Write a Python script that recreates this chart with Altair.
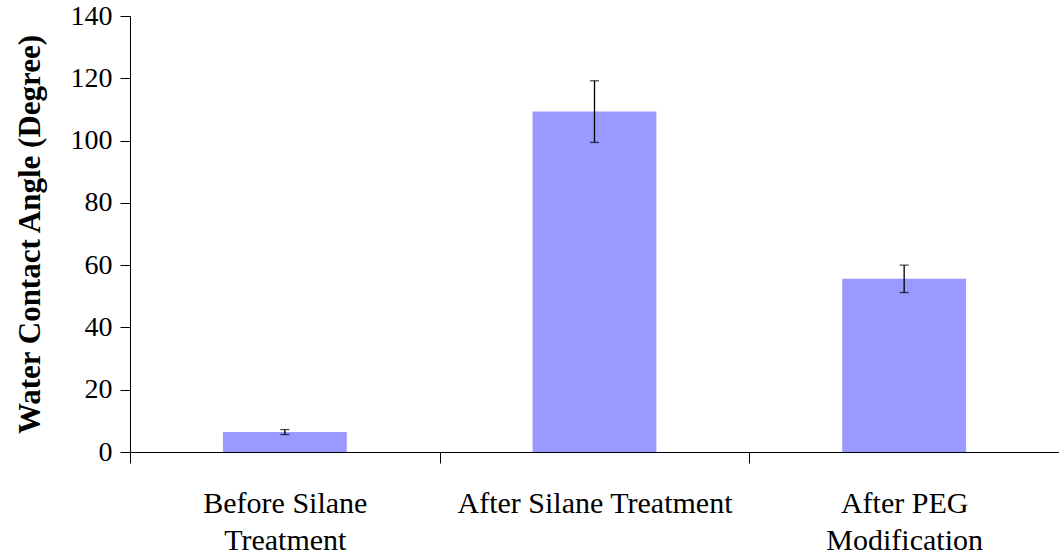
import altair as alt
import pandas as pd

# Water contact angle measured at each surface-treatment stage
stages = ["Before Silane\nTreatment", "After Silane Treatment", "After PEG\nModification"]
angles = [6.4, 109.3, 55.6]
errors = [0.8, 9.9, 4.4]
y_ticks = [0, 20, 40, 60, 80, 100, 120, 140]

df = pd.DataFrame({"stage": stages, "angle": angles, "err": errors})
df["lo"] = df["angle"] - df["err"]
df["hi"] = df["angle"] + df["err"]

FONT = "Liberation Serif"
Y_TITLE = "Water Contact Angle (Degree)"

# Bands fill each category slot so the axis ticks fall on the slot boundaries
x_scale = alt.Scale(paddingInner=0, paddingOuter=0)
y_scale = alt.Scale(domain=[0, 140], nice=False)
x_enc = alt.X("stage:N", sort=stages, scale=x_scale, title=None)


def y_enc(field):
    return alt.Y(field, scale=y_scale, title=Y_TITLE, axis=alt.Axis(values=y_ticks))


bars = alt.Chart(df).mark_bar(color="#9999FF", width=alt.RelativeBandSize(0.4)).encode(
    x=x_enc, y=y_enc("angle:Q")
)

whiskers = alt.Chart(df).mark_rule(color="black", strokeWidth=1.3).encode(
    x=x_enc, y=y_enc("lo:Q"), y2="hi:Q"
)

caps_hi = alt.Chart(df).mark_tick(color="black", size=9, thickness=1.3).encode(
    x=x_enc, y=y_enc("hi:Q")
)
caps_lo = alt.Chart(df).mark_tick(color="black", size=9, thickness=1.3).encode(
    x=x_enc, y=y_enc("lo:Q")
)

chart = (
    alt.layer(bars, whiskers, caps_hi, caps_lo)
    .properties(
        width=929,
        height=436,
        autosize=alt.AutoSizeParams(type="none"),
        padding={"left": 130, "top": 16, "right": 0, "bottom": 107},
    )
    .configure_view(stroke=None)
    .configure_tick(orient="horizontal")
    .configure_axis(
        labelFont=FONT,
        labelColor="black",
        titleFont=FONT,
        titleColor="black",
        tickColor="black",
        domainColor="black",
        grid=False,
        labelLimit=0,
    )
    .configure_axisX(
        labelAngle=0,
        labelExpr="split(datum.label, '\\n')",
        labelFontSize=30,
        labelLineHeight=37,
        labelPadding=25,
        tickSize=11,
        tickBand="extent",
    )
    .configure_axisY(
        labelFontSize=28,
        labelPadding=8,
        tickSize=10,
        titleFontSize=31,
        titleFontWeight="bold",
        titlePadding=24,
    )
)

chart.save("out.html", embed_options={"renderer": "svg", "actions": False})
